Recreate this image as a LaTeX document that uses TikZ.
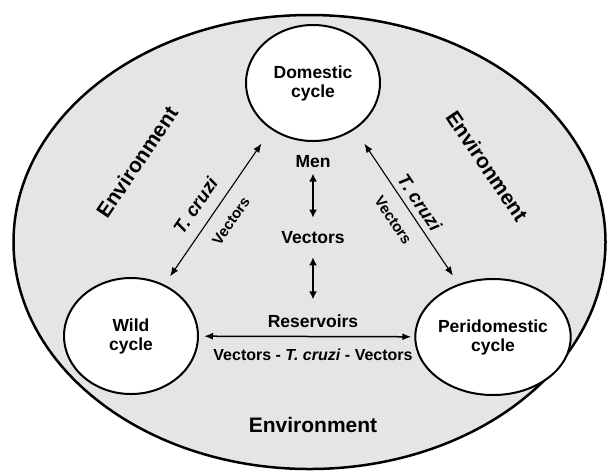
\documentclass[tikz,border=0pt]{standalone}
\usepackage{fontspec}
\setmainfont{Liberation Sans}
\usetikzlibrary{positioning}
\usetikzlibrary{arrows.meta}
\usetikzlibrary{shapes.geometric}

\begin{document}
\begin{tikzpicture}[x=1pt, y=-1pt]
            \tikzstyle{cycle_node}=[ellipse, draw, line width=2pt, fill=white, minimum width=134pt, minimum height=116pt, inner sep=0pt, align=center, font=\fontsize{17.5}{19}\selectfont\bfseries];
            \tikzstyle{text_node}=[inner sep=0pt, align=center, font=\fontsize{17.5}{19}\selectfont\bfseries];
            \tikzstyle{env_node}=[text_node, font=\fontsize{21}{24}\selectfont\bfseries];
            \tikzstyle{cruzi_node}=[text_node, font=\fontsize{18.5}{20}\selectfont\bfseries\itshape];
            \tikzstyle{small_node}=[text_node, font=\fontsize{15}{16}\selectfont\bfseries];
            \tikzstyle{arrow}=[{Latex[length=9pt, width=7pt]}-{Latex[length=9pt, width=7pt]}, line width=1.1pt];
            \tikzstyle{thick_arrow}=[{Latex[length=8pt, width=8pt]}-{Latex[length=8pt, width=8pt]}, line width=1.8pt];

            \useasboundingbox (0,0) rectangle (609,475);

            % Environment
            \draw[line width=2.5pt, fill=black!10] (309.5,242) ellipse [x radius=296pt, y radius=227pt];
            \node(env_left) [env_node, rotate=56] at (137,162) {Environment};
            \node(env_right) [env_node, rotate=-56] at (487,166) {Environment};
            \node(env_bottom) [env_node] at (313,425) {Environment};

            % Cycles
            \node(domestic) [cycle_node] at (313,83) {Domestic\\cycle};
            \node(wild) [cycle_node] at (131,336) {Wild\\cycle};
            \node(peri) [cycle_node] at (493,337) {Peridomestic\\cycle};

            % Middle column
            \node(men) [text_node, below = 13pt of domestic] {Men};
            \node(vectors) [text_node] at (313,238) {Vectors};
            \node(reservoirs) [text_node] at (313,321) {Reservoirs};
            \node(routes) [text_node, font=\fontsize{16}{18}\selectfont\bfseries, below = 21pt of reservoirs] {Vectors - \textit{T. cruzi} - Vectors};

            \draw[thick_arrow, shorten <=6pt, shorten >=14pt] (men) -- (vectors);
            \draw[thick_arrow, shorten <=13pt, shorten >=15pt] (vectors) -- (reservoirs);

            % Links between cycles
            \draw[arrow, line width=1.5pt, shorten <=5pt, shorten >=3pt] (wild) -- (peri);
            \draw[arrow, shorten <=17pt, shorten >=10pt] (domestic.228) -- node[cruzi_node, sloped, pos=0.56, above=12pt] {T. cruzi} node[small_node, sloped, pos=0.52, below=13pt] {Vectors} (wild.57);
            \draw[arrow, shorten <=17pt, shorten >=10pt] (domestic.312) -- node[cruzi_node, sloped, pos=0.52, above=6pt] {T. cruzi} node[small_node, sloped, pos=0.52, below=13pt] {Vectors} (peri.123);
        \end{tikzpicture}
\end{document}
